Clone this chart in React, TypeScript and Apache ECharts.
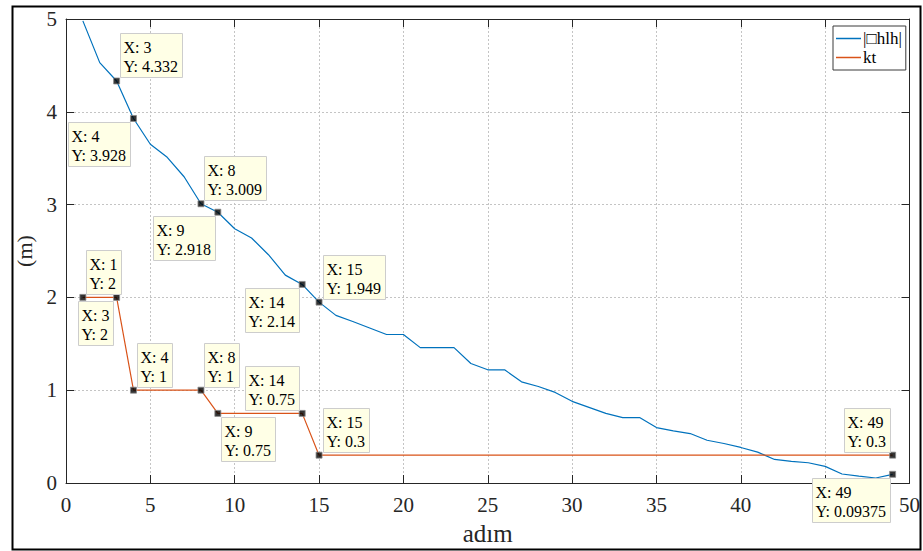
import React, { useEffect, useRef } from "react";
import * as echarts from "echarts";

const steps: number[] = Array.from({ length: 49 }, (_, i) => i + 1);
const dhlh: number[] = [
  4.98, 4.53, 4.332, 3.928, 3.65, 3.51, 3.3, 3.009, 2.918, 2.74,
  2.64, 2.46, 2.24, 2.14, 1.949, 1.806, 1.74, 1.67, 1.6, 1.6,
  1.459, 1.459, 1.459, 1.288, 1.22, 1.22, 1.09, 1.04, 0.976, 0.88,
  0.815, 0.75, 0.705, 0.705, 0.597, 0.561, 0.533, 0.461, 0.426, 0.383,
  0.333, 0.254, 0.233, 0.218, 0.179, 0.097, 0.075, 0.054, 0.09375,
];
const kt: number[] = [
  2, 2, 2, 1, 1, 1, 1, 1, 0.75, 0.75,
  0.75, 0.75, 0.75, 0.75, 0.3, 0.3, 0.3, 0.3, 0.3, 0.3,
  0.3, 0.3, 0.3, 0.3, 0.3, 0.3, 0.3, 0.3, 0.3, 0.3,
  0.3, 0.3, 0.3, 0.3, 0.3, 0.3, 0.3, 0.3, 0.3, 0.3,
  0.3, 0.3, 0.3, 0.3, 0.3, 0.3, 0.3, 0.3, 0.3,
];
// 45 is hidden behind a data tip in the reference
const xTicks: number[] = [0, 5, 10, 15, 20, 25, 30, 35, 40, 50];
const yTicks: number[] = [0, 1, 2, 3, 4, 5];
const seriesNames: string[] = ["|□hlh|", "kt"];

// data tips: which series, which step, which corner the box sits in
const tips: { s: number; x: number; c: string }[] = [
  { s: 0, x: 3, c: "ur" },
  { s: 0, x: 4, c: "ll" },
  { s: 0, x: 8, c: "ur" },
  { s: 0, x: 9, c: "ll" },
  { s: 0, x: 14, c: "ll" },
  { s: 0, x: 15, c: "ur" },
  { s: 0, x: 49, c: "ll" },
  { s: 1, x: 1, c: "ur" },
  { s: 1, x: 3, c: "ll" },
  { s: 1, x: 4, c: "ur" },
  { s: 1, x: 8, c: "ur" },
  { s: 1, x: 9, c: "lr" },
  { s: 1, x: 14, c: "ul" },
  { s: 1, x: 15, c: "ur" },
  { s: 1, x: 49, c: "ul" },
];

const FAMILY = "Liberation Serif";
const TIP_FONT = 16;
const PAD = [4, 4, 2, 3];

function measure(text: string): number {
  const c = document.createElement("canvas").getContext("2d");
  if (!c) return text.length * 8;
  c.font = `${TIP_FONT}px "${FAMILY}"`;
  return c.measureText(text).width;
}

export default function App() {
  const ref = useRef<HTMLDivElement>(null);
  useEffect(() => {
    if (!ref.current) return;
    const chart = echarts.init(ref.current, undefined, { renderer: "svg" });
    const vals = [dhlh, kt];
    const axisCommon = {
      type: "value" as const,
      axisLine: { show: true, onZero: false, lineStyle: { color: "#262626", width: 1 } },
      axisTick: { show: true, inside: true, length: 8, lineStyle: { color: "#262626" } },
    };
    chart.setOption({
      animation: false,
      backgroundColor: "#ffffff",
      grid: { left: 66, top: 19, right: 9, bottom: 66, containLabel: false },
      legend: {
        data: seriesNames,
        orient: "vertical",
        left: 833,
        top: 26,
        backgroundColor: "#ffffff",
        borderColor: "#3a3a3a",
        borderWidth: 1,
        borderRadius: 0,
        padding: [4, 4, 4, 3],
        itemGap: 2,
        itemWidth: 25,
        itemHeight: 1.5,
        icon: "rect",
        textStyle: { fontFamily: FAMILY, fontSize: 17, lineHeight: 17, color: "#000", padding: [0, 0, 0, -3] },
      },
      xAxis: [
        {
          ...axisCommon,
          position: "bottom",
          min: 0,
          max: 50,
          interval: 5,
          name: "adım",
          nameLocation: "middle",
          nameGap: 38,
          nameTextStyle: { fontFamily: FAMILY, fontSize: 25, color: "#262626" },
          axisLabel: {
            fontFamily: FAMILY,
            fontSize: 21,
            color: "#262626",
            margin: 11,
            formatter: (v: number) => (xTicks.includes(v) ? String(v) : ""),
          },
          splitLine: { show: true, lineStyle: { color: "#c4c4c4", type: [2, 2], width: 1 } },
        },
        {
          ...axisCommon,
          position: "top",
          min: 0,
          max: 50,
          interval: 5,
          axisLabel: { show: false },
          splitLine: { show: false },
        },
      ],
      yAxis: [
        {
          ...axisCommon,
          position: "left",
          min: 0,
          max: 5,
          interval: 1,
          name: "(m)",
          nameLocation: "middle",
          nameGap: 31,
          nameTextStyle: { fontFamily: FAMILY, fontSize: 22, color: "#262626" },
          axisLabel: {
            fontFamily: FAMILY,
            fontSize: 21,
            color: "#262626",
            margin: 9,
            formatter: (v: number) => (yTicks.includes(v) ? String(v) : ""),
          },
          splitLine: { show: true, lineStyle: { color: "#c4c4c4", type: [2, 2], width: 1 } },
        },
        {
          ...axisCommon,
          position: "right",
          min: 0,
          max: 5,
          interval: 1,
          axisLabel: { show: false },
          splitLine: { show: false },
        },
      ],
      series: [
        {
          name: seriesNames[0],
          type: "line",
          data: steps.map((x, i) => [x, dhlh[i]]),
          symbol: "none",
          lineStyle: { color: "#0072BD", width: 1.2 },
          itemStyle: { color: "#0072BD" },
          z: 2,
        },
        {
          name: seriesNames[1],
          type: "line",
          data: steps.map((x, i) => [x, kt[i]]),
          symbol: "none",
          lineStyle: { color: "#D95319", width: 1.2 },
          itemStyle: { color: "#D95319" },
          z: 2,
        },
        {
          type: "scatter",
          data: tips.map((t) => [t.x, vals[t.s][t.x - 1]]),
          symbol: "rect",
          symbolSize: 6,
          itemStyle: { color: "#000000", borderColor: "#8a8a8a", borderWidth: 1 },
          z: 5,
        },
      ],
    });

    const lineH = 19;
    const graphics: any[] = [
      {
        type: "rect",
        left: 10,
        top: 4,
        shape: { x: 0, y: 0, width: 908, height: 543 },
        style: { fill: "none", stroke: "#000", lineWidth: 2 },
        silent: true,
        z: 100,
      },
    ];
    tips.forEach((t) => {
      const y = vals[t.s][t.x - 1];
      const l1 = `X: ${t.x}`;
      const l2 = `Y: ${y}`;
      const p = chart.convertToPixel({ xAxisIndex: 0, yAxisIndex: 0 }, [t.x, y]) as number[];
      const w = Math.max(measure(l1), measure(l2)) + PAD[1] + PAD[3];
      const h = lineH * 2 + PAD[0] + PAD[2];
      const right = t.c[1] === "r";
      const up = t.c[0] === "u";
      const bx = right ? p[0] + 3.5 : p[0] - 3.5 - w;
      const by = up ? p[1] - 3.5 - h : p[1] + 3.5;
      graphics.push({
        type: "rect",
        shape: { x: Math.round(bx) + 0.5, y: Math.round(by) + 0.5, width: Math.round(w), height: h },
        style: { fill: "#ffffe6", stroke: "#cdcdcd", lineWidth: 1 },
        silent: true,
        z: 50,
      });
      graphics.push({
        type: "text",
        x: Math.round(bx) + 0.5 + PAD[3],
        y: Math.round(by) + 0.5 + PAD[0],
        style: {
          text: `${l1}\n${l2}`,
          fontFamily: FAMILY,
          fontSize: TIP_FONT,
          lineHeight: lineH,
          fill: "#000",
          align: "left",
          verticalAlign: "top",
        },
        silent: true,
        z: 51,
      });
    });
    chart.setOption({ graphic: graphics });
    return () => chart.dispose();
  }, []);
  return (
    <div
      ref={ref}
      style={{ position: "fixed", left: 0, top: 0, width: 923, height: 551, background: "#fff" }}
    />
  );
}
